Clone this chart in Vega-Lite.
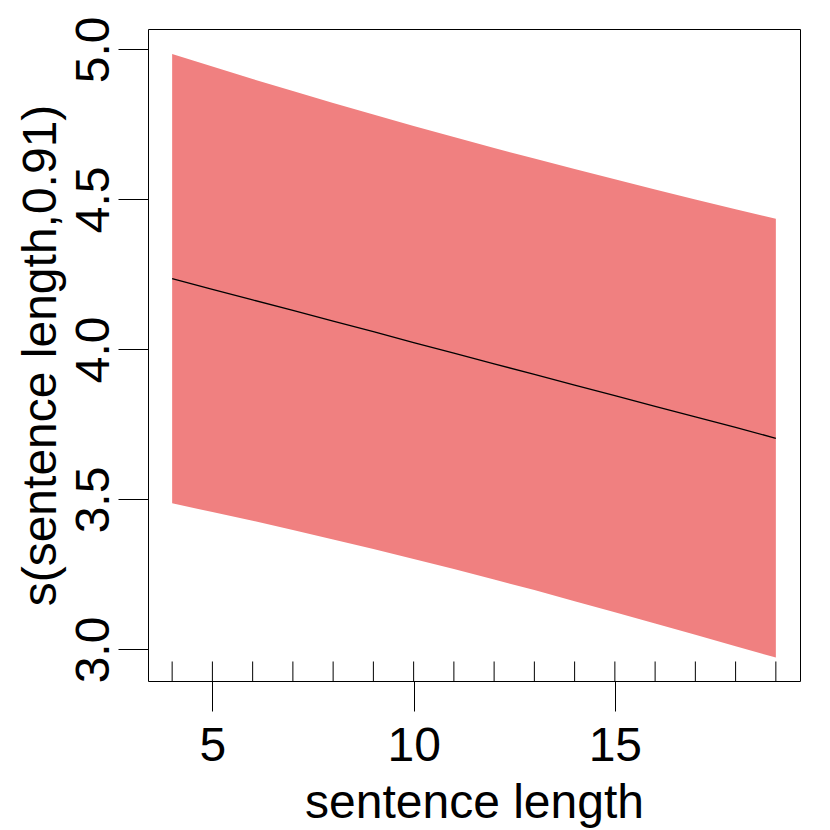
{
  "$schema": "https://vega.github.io/schema/vega-lite/v6.json",
  "width": 652,
  "height": 652,
  "autosize": {"type": "none"},
  "padding": {"left": 148, "top": 29, "right": 30, "bottom": 149},
  "background": "white",
  "config": {
    "view": {"stroke": "black", "strokeWidth": 1},
    "axis": {
      "grid": false,
      "domain": false,
      "labelFont": "Liberation Sans",
      "titleFont": "Liberation Sans",
      "labelFontSize": 48,
      "titleFontSize": 48,
      "titleFontWeight": "normal",
      "labelColor": "black",
      "titleColor": "black",
      "tickColor": "black",
      "tickSize": 30,
      "tickWidth": 1,
      "labelFlush": false,
      "labelOverlap": false
    }
  },
  "datasets": {
    "fit": [
      {"length": 4, "fit": 4.236, "upper": 4.985, "lower": 3.487},
      {"length": 5, "fit": 4.200, "upper": 4.943, "lower": 3.458},
      {"length": 6, "fit": 4.165, "upper": 4.901, "lower": 3.429},
      {"length": 7, "fit": 4.130, "upper": 4.861, "lower": 3.398},
      {"length": 8, "fit": 4.094, "upper": 4.821, "lower": 3.367},
      {"length": 9, "fit": 4.059, "upper": 4.783, "lower": 3.335},
      {"length": 10, "fit": 4.023, "upper": 4.745, "lower": 3.302},
      {"length": 11, "fit": 3.988, "upper": 4.708, "lower": 3.268},
      {"length": 12, "fit": 3.952, "upper": 4.671, "lower": 3.233},
      {"length": 13, "fit": 3.917, "upper": 4.636, "lower": 3.198},
      {"length": 14, "fit": 3.881, "upper": 4.601, "lower": 3.161},
      {"length": 15, "fit": 3.846, "upper": 4.567, "lower": 3.124},
      {"length": 16, "fit": 3.810, "upper": 4.533, "lower": 3.087},
      {"length": 17, "fit": 3.775, "upper": 4.500, "lower": 3.049},
      {"length": 18, "fit": 3.740, "upper": 4.467, "lower": 3.011},
      {"length": 19, "fit": 3.704, "upper": 4.436, "lower": 2.973}
    ],
    "rug": [
      {"length": 4}, {"length": 5}, {"length": 6}, {"length": 7},
      {"length": 8}, {"length": 9}, {"length": 10}, {"length": 11},
      {"length": 12}, {"length": 13}, {"length": 14}, {"length": 15},
      {"length": 16}, {"length": 17}, {"length": 18}, {"length": 19}
    ]
  },
  "encoding": {
    "x": {
      "field": "length",
      "type": "quantitative",
      "title": "sentence length",
      "scale": {"domain": [3.4, 19.6], "nice": false, "zero": false},
      "axis": {
        "values": [5, 10, 15],
        "labelBaseline": "alphabetic",
        "labelPadding": 49,
        "titleX": 326,
        "titleY": 136,
        "titleAlign": "center",
        "titleBaseline": "alphabetic"
      }
    }
  },
  "layer": [
    {
      "data": {"name": "fit"},
      "mark": {"type": "area", "color": "#F08080", "opacity": 1},
      "encoding": {
        "y": {
          "field": "upper",
          "type": "quantitative",
          "title": "s(sentence length,0.91)",
          "scale": {"domain": [2.895, 5.068], "nice": false, "zero": false},
          "axis": {
            "values": [3, 3.5, 4, 4.5, 5],
            "format": ".1f",
            "labelAngle": 270,
            "labelAlign": "center",
            "labelBaseline": "alphabetic",
            "labelPadding": 10,
            "titleAngle": 270,
            "titleX": -93,
            "titleY": 326,
            "titleAlign": "center",
            "titleBaseline": "alphabetic"
          }
        },
        "y2": {"field": "lower"}
      }
    },
    {
      "data": {"name": "fit"},
      "mark": {"type": "line", "color": "black", "strokeWidth": 1.3},
      "encoding": {
        "y": {"field": "fit", "type": "quantitative", "title": "s(sentence length,0.91)"}
      }
    },
    {
      "data": {"name": "rug"},
      "mark": {"type": "rule", "color": "black", "strokeWidth": 1},
      "encoding": {
        "y": {"datum": 2.895, "type": "quantitative", "title": "s(sentence length,0.91)"},
        "y2": {"datum": 2.96}
      }
    }
  ]
}
